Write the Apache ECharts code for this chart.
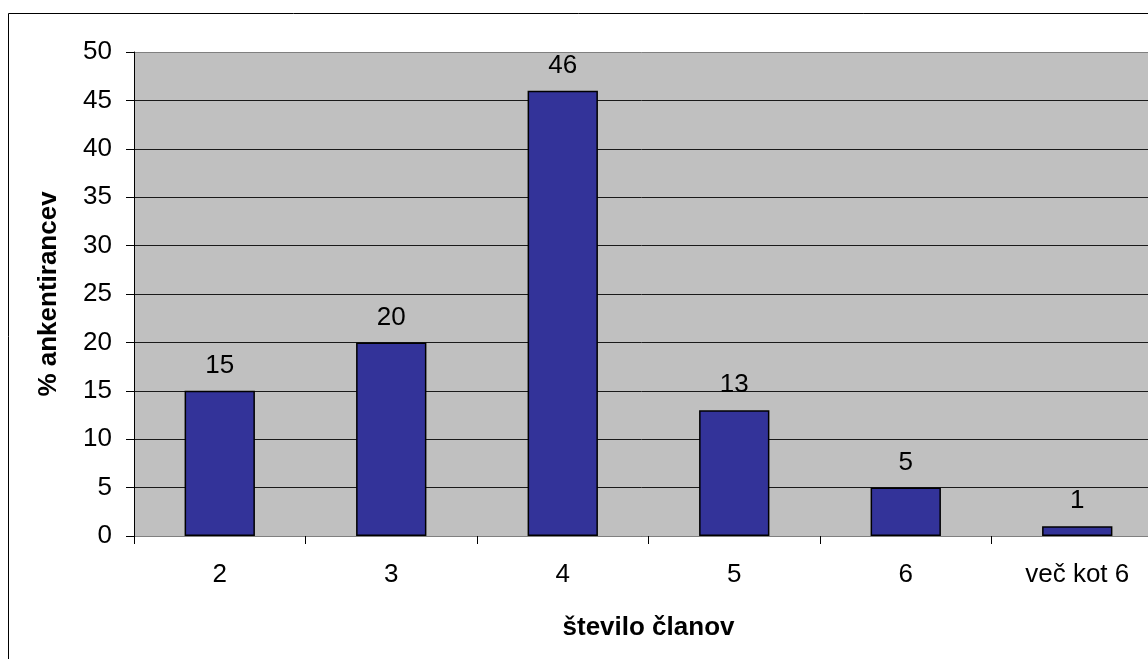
<!DOCTYPE html>
<html>
<head>
<meta charset="utf-8">
<style>
  html, body { margin: 0; padding: 0; background: #fff; }
  #chart { width: 1148px; height: 659px; }
</style>
<script src="https://cdn.jsdelivr.net/npm/echarts@6/dist/echarts.min.js"></script>
</head>
<body>
<div id="chart"></div>
<script>
// Household size distribution among respondents
const categories = ['2', '3', '4', '5', '6', 'več kot 6'];
const shares = [15, 20, 46, 13, 5, 1];
const yTicks = { min: 0, max: 50, interval: 5 };

const FONT = '"Liberation Sans", Arial, sans-serif';

// grid lines: dark for inner values, gray for the top edge
const splitColors = [];
for (let v = yTicks.min; v <= yTicks.max; v += yTicks.interval) {
  splitColors.push(v === yTicks.max ? '#808080' : '#1a1a1a');
}

const chart = echarts.init(document.getElementById('chart'), null, { renderer: 'canvas' });
chart.setOption({
  animation: false,
  backgroundColor: '#ffffff',
  graphic: [{
    type: 'rect',
    shape: { x: 8.5, y: 13.5, width: 1200, height: 700 },
    style: { fill: 'none', stroke: '#000', lineWidth: 1 },
    z: -10,
    silent: true
  }],
  grid: {
    left: 134, top: 52, width: 1029, height: 484,
    outerBoundsMode: 'none',
    containLabel: false,
    show: true, backgroundColor: '#C0C0C0', borderWidth: 0
  },
  xAxis: {
    type: 'category',
    data: categories,
    name: 'število članov',
    nameLocation: 'middle',
    nameGap: 79,
    nameTextStyle: { fontFamily: FONT, fontSize: 26, fontWeight: 'bold', color: '#000' },
    axisLine: { show: true, lineStyle: { color: '#808080', width: 1 } },
    axisTick: { show: true, alignWithLabel: false, length: 8, lineStyle: { color: '#000' } },
    axisLabel: { fontFamily: FONT, fontSize: 26, color: '#000', margin: 26 },
    splitLine: { show: false }
  },
  yAxis: {
    type: 'value',
    min: yTicks.min, max: yTicks.max, interval: yTicks.interval,
    name: '% ankentirancev',
    nameLocation: 'middle',
    nameGap: 72,
    nameRotate: 90,
    nameTextStyle: { fontFamily: FONT, fontSize: 26, fontWeight: 'bold', color: '#000' },
    axisLine: { show: true, lineStyle: { color: '#000', width: 1 } },
    axisTick: { show: true, length: 8, lineStyle: { color: '#000' } },
    axisLabel: { fontFamily: FONT, fontSize: 26, color: '#000', margin: 22 },
    splitLine: { show: true, lineStyle: { color: splitColors, width: 1 } }
  },
  series: [{
    type: 'bar',
    data: shares,
    barWidth: '41%',
    itemStyle: { color: '#333399', borderColor: '#000', borderWidth: 1.5 },
    label: {
      show: true, position: 'top', distance: 12,
      fontFamily: FONT, fontSize: 26, color: '#000'
    }
  }]
});
</script>
</body>
</html>
